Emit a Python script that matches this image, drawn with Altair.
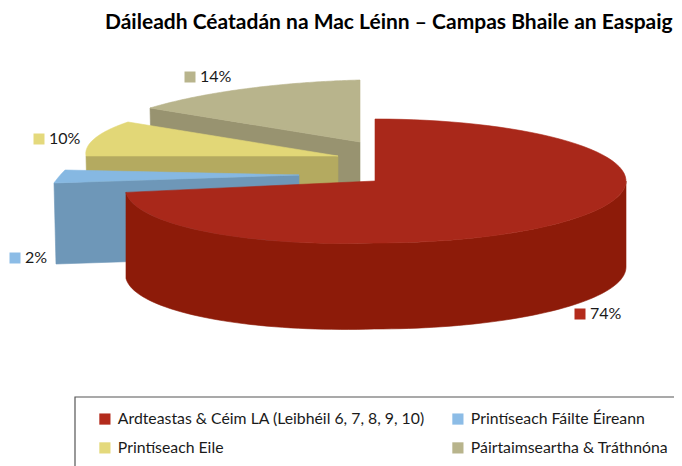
import math
import altair as alt
import pandas as pd

categories = ["Ardteastas & Céim LA (Leibhéil 6, 7, 8, 9, 10)", "Printíseach Fáilte Éireann", "Printíseach Eile", "Páirtaimseartha & Tráthnóna"]
shares = [74, 2, 10, 14]
top_colors = ["#A9281A", "#86B8E2", "#E2D777", "#B8B48C"]
wall_colors = ["#8D1B09", "#6E97B8", "#B4AA60", "#989370"]
legend_colors = ["#B32B1C", "#8CBCE6", "#E4D97C", "#B8B48C"]

# slice geometry: apex, and the on-screen offsets of its two rim tips
APEX = [(375, 181), (299, 175), (338, 156), (360, 142)]
TIP_A = [(0, -62), (-245, 8), (-252, 0), (-210, -34)]
TIP_B = [(-250, 11), (-234, -5), (-210, -34), (0, -62)]
DEPTH = [86, 81, 82, 82]
LABEL_AT = [(580, 314), (15, 258), (39, 139), (190, 77)]
N = 90

W, H = 666, 458
xs = alt.Scale(domain=[8, 674], range=[0, W], nice=False, zero=False)
ys = alt.Scale(domain=[8, 466], range=[0, H], nice=False, zero=False)


def rim(idx):
    """Rim of one slice, worked out from its share of the pie."""
    start = sum(shares[:idx]) * 3.6
    end = start + shares[idx] * 3.6
    a1, a2 = math.radians(start), math.radians(end)
    s1, c1, s2, c2 = math.sin(a1), math.cos(a1), math.sin(a2), math.cos(a2)
    det = s1 * c2 - s2 * c1
    ax, ay = TIP_A[idx]
    bx, by = TIP_B[idx]
    cx, cy = APEX[idx]
    if idx == 0:
        def at(t):
            s, c = math.sin(t), math.cos(t)
            return cx + (251 if s >= 0 else 249.5) * s, cy - 62 * c + (7.5 * -s if s < 0 else 0)
    else:
        m11 = (ax * c2 - bx * c1) / det
        m12 = (s1 * bx - s2 * ax) / det
        m21 = (ay * c2 - by * c1) / det
        m22 = (s1 * by - s2 * ay) / det

        def at(t):
            s, c = math.sin(t), math.cos(t)
            return cx + m11 * s + m12 * c, cy + m21 * s + m22 * c
    return at, a1, a2


def polygon(points):
    return pd.DataFrame([{"x": x, "y": y, "i": i} for i, (x, y) in enumerate(points + points[:1])])


def shape(points, color):
    return alt.Chart(polygon(points)).mark_line(fill=color, stroke=color, strokeWidth=0.6).encode(
        x=alt.X("x:Q", scale=xs, axis=None),
        y=alt.Y("y:Q", scale=ys, axis=None),
        order=alt.Order("i:Q"),
    )


layers = []
for idx in [3, 2, 1, 0]:
    at, a1, a2 = rim(idx)
    cx, cy = APEX[idx]
    d = DEPTH[idx]
    arc = [at(a1 + (a2 - a1) * k / N) for k in range(N + 1)]
    if idx == 0:
        vis = [at(math.radians(90) + (a2 - math.radians(90)) * k / N) for k in range(N + 1)]
        layers.append(shape(vis + [(x, y + d) for x, y in reversed(vis)], wall_colors[idx]))
    else:
        tip = arc[0]
        layers.append(shape([tip, (cx, cy), (cx, cy + d), (tip[0] + 2, tip[1] + d)], wall_colors[idx]))
    layers.append(shape([(cx, cy)] + arc, top_colors[idx]))

frame = pd.DataFrame({"x": [75, 75, 674], "y": [466, 397, 397], "i": [0, 1, 2]})
layers.append(alt.Chart(frame).mark_line(color="#555555", strokeWidth=1.2).encode(
    x=alt.X("x:Q", scale=xs, axis=None), y=alt.Y("y:Q", scale=ys, axis=None), order=alt.Order("i:Q")))

labels = pd.DataFrame({
    "cat": categories,
    "share": shares,
    "label": [f"{v}%" for v in shares],
    "x": [p[0] for p in LABEL_AT],
    "y": [p[1] for p in LABEL_AT],
})
layers.append(alt.Chart(labels).mark_square(size=121, opacity=1).encode(
    x=alt.X("x:Q", scale=xs, axis=None),
    y=alt.Y("y:Q", scale=ys, axis=None),
    color=alt.Color("cat:N", scale=alt.Scale(domain=categories, range=legend_colors),
                    legend=alt.Legend(orient="none", legendX=89, legendY=403, title=None, columns=2,
                                      direction="horizontal", symbolType="square", symbolSize=125,
                                      symbolStrokeWidth=0, labelFont="Lato", labelFontSize=15.8,
                                      labelColor="#1a1a1a", labelLimit=400, columnPadding=25,
                                      rowPadding=12, labelOffset=5, symbolOpacity=1)),
))
layers.append(alt.Chart(labels).mark_text(align="left", baseline="middle", dx=10, font="Lato", fontSize=16, color="#1a1a1a").encode(
    x=alt.X("x:Q", scale=xs, axis=None),
    y=alt.Y("y:Q", scale=ys, axis=None),
    text="label:N",
))

chart = alt.layer(*layers).properties(
    width=W, height=H,
    padding=0,
    autosize=alt.AutoSizeParams(type="none"),
    title=alt.TitleParams("Dáileadh Céatadán na Mac Léinn – Campas Bhaile an Easpaig",
                          anchor="start", frame="group", dx=97, offset=-25, font="Lato",
                          fontSize=21, fontWeight="bold", color="#000000"),
).configure_view(stroke=None)

chart.save("out.html", embed_options={"renderer": "svg", "actions": False})
